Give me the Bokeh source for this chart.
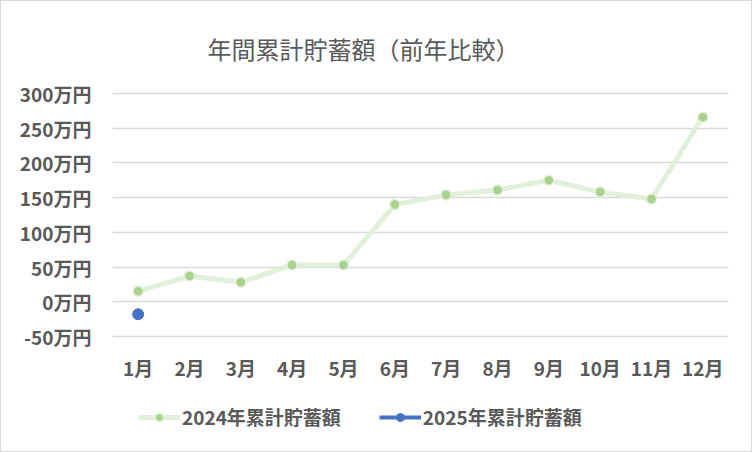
from bokeh.plotting import figure
from bokeh.models import (FactorRange, Range1d, FixedTicker, Legend, LegendItem, Title,
                          ColumnDataSource)
from bokeh.layouts import column
from bokeh.embed import file_html
from bokeh.resources import INLINE

months = ["1月", "2月", "3月", "4月", "5月", "6月", "7月", "8月", "9月", "10月", "11月", "12月"]
savings_2024 = [15, 37, 28, 53, 53, 140, 154, 161, 175, 158, 148, 266]
months_2025 = ["1月"]
savings_2025 = [-18]
y_ticks = [-50, 0, 50, 100, 150, 200, 250, 300]
y_tick_labels = ["-50万円", "0万円", "50万円", "100万円", "150万円", "200万円", "250万円", "300万円"]

title_text = "年間累計貯蓄額（前年比較）"
label_2024 = "2024年累計貯蓄額"
label_2025 = "2025年累計貯蓄額"

FONT = "Noto Sans CJK JP"
GRAY = "#595959"
GREEN_LINE = "#E2EFDA"
GREEN_MARK = "#A9D18E"
BLUE = "#4472C4"

p = figure(width=750, height=396, x_range=FactorRange(*months), y_range=Range1d(-53, 303),
           output_backend="svg", toolbar_location=None,
           min_border_left=111, min_border_right=23, min_border_top=90, min_border_bottom=59)
p.outline_line_color = None
p.background_fill_color = "white"
p.border_fill_color = "white"

src24 = ColumnDataSource(dict(x=months, y=savings_2024))
src25 = ColumnDataSource(dict(x=months_2025, y=savings_2025))

p.line("x", "y", source=src24, line_color=GREEN_LINE, line_width=5)
p.scatter("x", "y", source=src24, size=10, fill_color=GREEN_MARK,
          line_color=GREEN_LINE, line_width=1.5)
p.line("x", "y", source=src25, line_color=BLUE, line_width=4)
p.scatter("x", "y", source=src25, size=11, fill_color=BLUE, line_color=BLUE)

# axes
p.xgrid.grid_line_color = None
p.ygrid.grid_line_color = "#D9D9D9"
p.ygrid.grid_line_width = 1.5
p.yaxis.ticker = FixedTicker(ticks=y_ticks)
p.yaxis.major_label_overrides = {t: l for t, l in zip(y_ticks, y_tick_labels)}
for ax in (p.xaxis[0], p.yaxis[0]):
    ax.axis_line_color = None
    ax.major_tick_line_color = None
    ax.minor_tick_line_color = None
    ax.major_tick_out = 0
    ax.major_tick_in = 0
    ax.major_label_text_font = FONT
    ax.major_label_text_font_size = "19px"
    ax.major_label_text_font_style = "bold"
    ax.major_label_text_color = GRAY
p.yaxis.major_label_standoff = 21
p.xaxis.major_label_standoff = 15

# title
p.title = Title(text=title_text, align="left", offset=95, text_font=FONT,
                text_font_size="24px", text_font_style="normal", text_color=GRAY,
                standoff=51)

# legend strip (frames of the column are aligned with the main plot's frame)
lg = figure(width=750, height=54, x_range=Range1d(0, 1), y_range=Range1d(0, 1),
            output_backend="svg", toolbar_location=None, min_border=0,
            x_axis_location=None, y_axis_location=None)
lg.grid.visible = False
lg.outline_line_color = None
lg.background_fill_color = "white"
lg.border_fill_color = "white"
off = dict(x=[-5], y=[-5])
d24l = lg.line("x", "y", source=ColumnDataSource(off), line_color=GREEN_LINE, line_width=5)
d24s = lg.scatter("x", "y", source=ColumnDataSource(off), size=10, fill_color=GREEN_MARK,
                  line_color=GREEN_LINE, line_width=1.5)
d25l = lg.line("x", "y", source=ColumnDataSource(off), line_color=BLUE, line_width=4)
d25s = lg.scatter("x", "y", source=ColumnDataSource(off), size=11, fill_color=BLUE, line_color=BLUE)

legend = Legend(items=[LegendItem(label=label_2024, renderers=[d24l, d24s]),
                       LegendItem(label=label_2025, renderers=[d25l, d25s])],
                orientation="horizontal", location=(26, 21),
                border_line_color=None, background_fill_alpha=0,
                padding=0, margin=0, spacing=38, glyph_width=42, glyph_height=20,
                label_standoff=2, label_text_font=FONT, label_text_font_size="19px",
                label_text_font_style="bold", label_text_color=GRAY)
lg.add_layout(legend, "center")

layout = column(p, lg, spacing=0, styles={"border": "1px solid #d9d9d9"})

open("out.html", "w").write(file_html(layout, INLINE))
